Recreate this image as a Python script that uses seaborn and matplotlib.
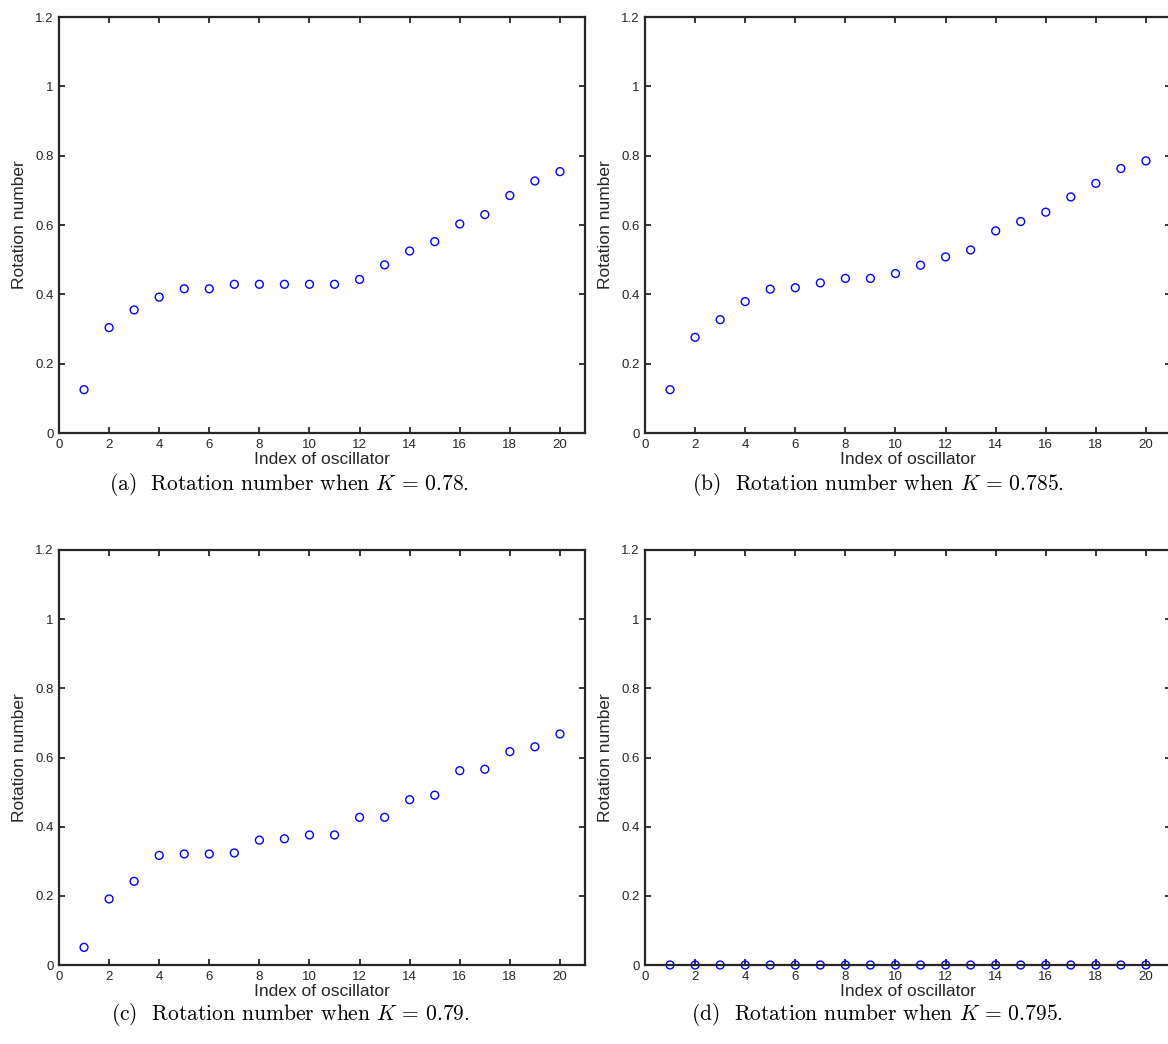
import matplotlib
matplotlib.use("Agg")
import matplotlib.pyplot as plt
import seaborn as sns

# Index of oscillator
oscillator = list(range(1, 21))

# Rotation numbers
rot_k078 = [0.125, 0.304, 0.355, 0.392, 0.416, 0.416, 0.429, 0.429, 0.429, 0.429,
            0.429, 0.443, 0.485, 0.525, 0.552, 0.603, 0.630, 0.685, 0.727, 0.754]
rot_k0785 = [0.125, 0.276, 0.327, 0.379, 0.415, 0.419, 0.433, 0.446, 0.446, 0.460,
             0.484, 0.508, 0.528, 0.583, 0.610, 0.637, 0.681, 0.720, 0.763, 0.785]
rot_k079 = [0.051, 0.191, 0.242, 0.317, 0.321, 0.321, 0.324, 0.361, 0.365, 0.376,
            0.376, 0.427, 0.427, 0.478, 0.491, 0.562, 0.566, 0.617, 0.631, 0.668]
rot_k0795 = [0.0] * 20

captions = [r"(a)  Rotation number when $K\, =\, 0.78$.",
            r"(b)  Rotation number when $K\, =\, 0.785$.",
            r"(c)  Rotation number when $K\, =\, 0.79$.",
            r"(d)  Rotation number when $K\, =\, 0.795$."]

x_ticks = [0, 2, 4, 6, 8, 10, 12, 14, 16, 18, 20]
y_ticks = [0, 0.2, 0.4, 0.6, 0.8, 1.0, 1.2]
y_tick_labels = ["0", "0.2", "0.4", "0.6", "0.8", "1", "1.2"]

sns.set_theme(style="ticks")
plt.rcParams["font.family"] = ["Liberation Sans", "DejaVu Sans"]
plt.rcParams["mathtext.fontset"] = "cm"

axis_col = "#262626"

W, H = 1168, 1044
fig = plt.figure(figsize=(W / 100, H / 100), dpi=100)

# axes boxes in pixels: (left, top, right, bottom)
boxes = [(59, 17, 585, 433), (645, 17, 1171, 433),
         (59, 550, 585, 965), (645, 550, 1171, 965)]
series = [rot_k078, rot_k0785, rot_k079, rot_k0795]
cap_pos = [(289, 485), (878, 485), (290, 1015), (877, 1015)]

for box, vals, cap, cp in zip(boxes, series, captions, cap_pos):
    l, t, r, b = box
    ax = fig.add_axes([l / W, 1 - b / H, (r - l) / W, (b - t) / H])
    sns.scatterplot(x=oscillator, y=vals, ax=ax, marker="o", s=32,
                    facecolors="none", edgecolor="blue", linewidth=1.0,
                    clip_on=False, zorder=1)
    ax.set_xlim(0, 21)
    ax.set_ylim(0, 1.2)
    ax.set_xticks(x_ticks)
    ax.set_yticks(y_ticks)
    ax.set_yticklabels(y_tick_labels)
    ax.tick_params(direction="in", length=4, width=1.3, top=True, right=True,
                   labelsize=9.5, colors=axis_col, labelcolor=axis_col, pad=4)
    for sp in ax.spines.values():
        sp.set_visible(True)
        sp.set_linewidth(1.6)
        sp.set_color(axis_col)
        sp.set_zorder(3)
    ax.set_xlabel("Index of oscillator", fontsize=12.5, color=axis_col, labelpad=1)
    ax.set_ylabel("Rotation number", fontsize=12.5, color=axis_col, labelpad=6)
    fig.text(cp[0] / W, 1 - cp[1] / H, cap, ha="center", va="center",
             fontsize=15.5, fontfamily="cmr10", color="black")

fig.savefig("out.png", dpi=100)
